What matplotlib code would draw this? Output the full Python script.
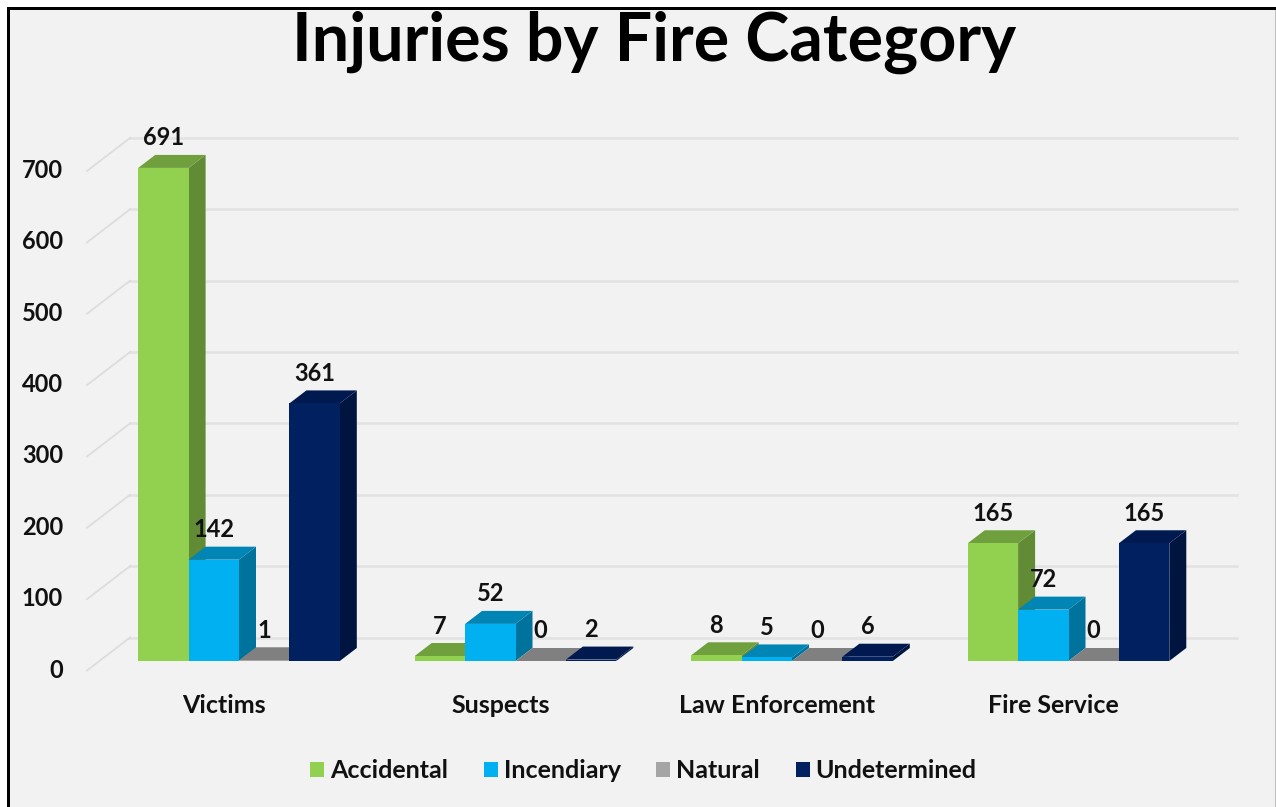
import matplotlib
matplotlib.use("Agg")
import matplotlib.pyplot as plt
from matplotlib.patches import Polygon, Rectangle
from matplotlib.transforms import Affine2D
from matplotlib.lines import Line2D

categories = ["Victims", "Suspects", "Law Enforcement", "Fire Service"]
accidental = [691, 7, 8, 165]
incendiary = [142, 52, 5, 72]
natural = [1, 0, 0, 0]
undetermined = [361, 2, 6, 165]
series_names = ["Accidental", "Incendiary", "Natural", "Undetermined"]
y_ticks = [0, 100, 200, 300, 400, 500, 600, 700]

front = ["#92D050", "#00B0F0", "#A5A5A5", "#002060"]
side = ["#628B36", "#00739C", "#6E6E6E", "#001440"]
top = ["#70A03E", "#0085B5", "#808080", "#001A50"]
TXT = "#111111"
FONT = ["Lato", "DejaVu Sans"]

W, H = 1276, 807
plt.rcParams["font.family"] = FONT
fig = plt.figure(figsize=(W / 100, H / 100), dpi=100, facecolor="white")

# background and frame, in figure pixels
px = Affine2D().scale(1 / W, 1 / H) + fig.transFigure
fig.patches.append(Rectangle((9, 0), W - 10, H - 9, transform=px, fc="#F2F2F2", ec="none", zorder=-5))
fig.patches.append(Rectangle((7, 0), 3, H - 7, transform=px, fc="#000000", ec="none", zorder=-4))
fig.patches.append(Rectangle((7, H - 10), W - 7, 3, transform=px, fc="#000000", ec="none", zorder=-4))
fig.patches.append(Rectangle((W - 1.5, 0), 1.5, H - 10, transform=px, fc="#BFBFBF", ec="none", zorder=-4))

# axes = back wall of the 3D box
L, R, Y0, Y700 = 130, 1237, 637.5, 138
ax = fig.add_axes([L / W, 1 - Y0 / H, (R - L) / W, (Y0 - Y700) / H])
ax.patch.set_alpha(0)
for s in ax.spines.values():
    s.set_visible(False)

UX = 276.5
C0 = 239
xl = (L - C0) / UX
xr = (R - C0) / UX
ax.set_xlim(xl, xr)
ax.set_ylim(0, 700)
UY = (Y0 - Y700) / 700

ax.set_yticks(y_ticks)
ax.set_xticks(range(len(categories)))
ax.set_xticklabels(categories)
ax.grid(axis="y", color="#E3E3E3", lw=1.9, zorder=0)
ax.grid(axis="x", visible=False)
ax.set_axisbelow(True)
ax.tick_params(length=0)
for g in ax.get_ygridlines():
    g.set_clip_on(False)

# side-wall grid lines
for t in y_ticks:
    ax.add_line(Line2D([xl, xl - 43 / UX], [t, t - 33 / UY], color="#DDDDDD", lw=1.3, clip_on=False, zorder=1))

# tick labels
for lab in ax.get_yticklabels():
    lab.set_fontsize(17)
    lab.set_fontweight("bold")
    lab.set_color(TXT)
    lab.set_ha("right")
    lab.set_va("center")
    lab.set_transform(lab.get_transform() + Affine2D().translate(-62, -32.5))
for lab in ax.get_xticklabels():
    lab.set_fontsize(18)
    lab.set_fontweight("bold")
    lab.set_color(TXT)
    lab.set_va("center")
    lab.set_transform(lab.get_transform() + Affine2D().translate(-15, -63))

# 3D bars
BW = 50.4 / UX
SHIFT = 23.5      # front plane sits below the back wall, px
DX, DY = 17 / UX, 13 / UY
front_tr = ax.transData + Affine2D().translate(0, -SHIFT)
series = [accidental, incendiary, natural, undetermined]
z = 3
for si, vals in enumerate(series):
    for ci, v in enumerate(vals):
        x0 = ci + (si - 2) * BW
        x1 = x0 + BW
        ax.add_patch(Polygon([(x1, 0), (x1 + DX, DY), (x1 + DX, v + DY), (x1, v)], closed=True,
                             transform=front_tr, fc=side[si], ec="none", clip_on=False, zorder=z))
        ax.add_patch(Polygon([(x0, v), (x1, v), (x1 + DX, v + DY), (x0 + DX, v + DY)], closed=True,
                             transform=front_tr, fc=top[si], ec="none", clip_on=False, zorder=z))
        ax.bar(x0 + BW / 2, v, width=BW, color=front[si], transform=front_tr, clip_on=False, zorder=z + 0.5)
        ax.annotate(str(v), xy=(x0 + BW / 2, v), xycoords=front_tr, xytext=(0, 21.6), textcoords="offset points",
                    ha="center", va="center", fontsize=17, fontweight="bold", color=TXT, zorder=20,
                    annotation_clip=False)
    z += 1

fig.text(654 / W, 1 - 42 / H, "Injuries by Fire Category", ha="center", va="center",
         fontsize=47.8, fontweight="bold", color="#000000")

handles = [Rectangle((0, 0), 1, 1, fc=c, ec="none") for c in front]
fig.legend(handles, series_names, loc="center", bbox_to_anchor=(643.5 / W, 1 - 771 / H), ncols=4,
           frameon=False, prop={"family": FONT, "size": 18, "weight": "bold"},
           labelcolor=TXT, handlelength=0.56, handleheight=0.56, handletextpad=0.24, columnspacing=1.42)

fig.savefig("out.png", dpi=100, facecolor="white")
